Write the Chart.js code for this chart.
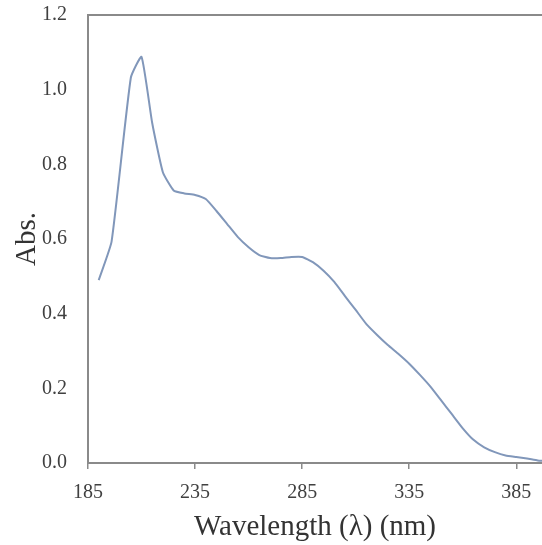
<!DOCTYPE html>
<html>
<head>
<meta charset="utf-8">
<script src="https://cdn.jsdelivr.net/npm/chart.js@4/dist/chart.umd.min.js"></script>
<style>
html,body{margin:0;padding:0;background:#fff;}
#wrap{width:542px;height:545px;position:relative;}
</style>
</head>
<body>
<div id="wrap"><canvas id="c" width="542" height="545"></canvas></div>
<script>
const wavelengths = [190,196,205,210,215,220,225,230,235,240,245,250,255,260,265,270,275,280,285,290,295,300,305,310,315,320,325,330,335,340,345,350,355,360,365,370,375,380,385,390,395,400];
const absorbance = [0.49,0.593,1.032,1.088,0.91,0.778,0.73,0.722,0.718,0.707,0.675,0.64,0.605,0.578,0.557,0.549,0.549,0.552,0.552,0.538,0.515,0.485,0.447,0.41,0.372,0.343,0.316,0.292,0.266,0.236,0.204,0.167,0.13,0.093,0.062,0.042,0.029,0.02,0.016,0.012,0.007,0.004];
const xTickValues = [185,235,285,335,385];
const yTickValues = [0,0.2,0.4,0.6,0.8,1.0,1.2];
const xTitle = 'Wavelength (\u03bb) (nm)';
const yTitle = 'Abs.';

const points = wavelengths.map((w,i)=>({x:w,y:absorbance[i]}));
const serif = "'Liberation Serif','DejaVu Serif',serif";
const axisColor = '#8a8a8a';
const tickColor = '#404040';

new Chart(document.getElementById('c'), {
  type: 'line',
  data: { datasets: [{
    data: points,
    borderColor: '#8197ba',
    borderWidth: 2,
    pointRadius: 0,
    tension: 0.15,
    fill: false
  }]},
  options: {
    responsive: false,
    animation: false,
    events: [],
    layout: { padding: { top: 15, right: 0, left: 0, bottom: 0 } },
    plugins: { legend: { display: false }, tooltip: { enabled: false } },
    scales: {
      x: {
        type: 'linear',
        position: 'bottom',
        min: 185,
        max: 397,
        afterBuildTicks: s => { s.ticks = xTickValues.map(v => ({value: v})); },
        afterFit: s => { s.height = 82; s.paddingLeft = 0; s.paddingRight = 0; },
        border: { display: true, color: axisColor, width: 2 },
        grid: { drawOnChartArea: false, drawTicks: true, tickLength: 6, color: axisColor, lineWidth: 1.5 },
        ticks: { font: { family: serif, size: 20 }, color: tickColor, padding: 12, maxRotation: 0 },
        title: { display: true, text: xTitle, font: { family: serif, size: 29 }, color: '#333', padding: { top: 0, bottom: 0 } }
      },
      x2: {
        type: 'linear',
        position: 'top',
        min: 185,
        max: 397,
        afterFit: s => { s.height = 0; s.paddingLeft = 0; s.paddingRight = 0; },
        border: { display: true, color: axisColor, width: 2 },
        grid: { display: false },
        ticks: { display: false }
      },
      y: {
        type: 'linear',
        min: 0,
        max: 1.2,
        afterBuildTicks: s => { s.ticks = yTickValues.map(v => ({value: v})); },
        afterFit: s => { s.width = 88; s.paddingTop = 0; s.paddingBottom = 0; },
        border: { display: true, color: axisColor, width: 2 },
        grid: { display: false },
        ticks: { font: { family: serif, size: 20 }, color: tickColor, padding: 13, callback: v => v.toFixed(1) },
        title: { display: true, text: yTitle, font: { family: serif, size: 29 }, color: '#333', padding: { top: 10, bottom: 0 } }
      }
    }
  }
});
</script>
</body>
</html>
